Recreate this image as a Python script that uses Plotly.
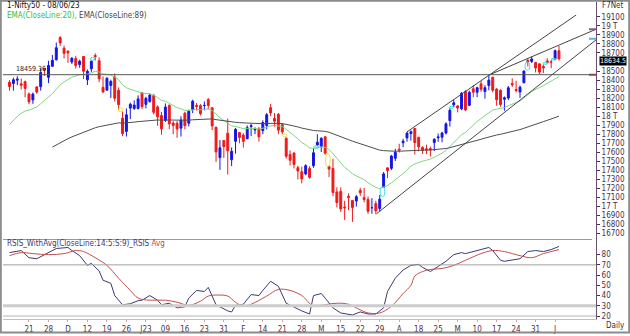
import plotly.graph_objects as go

# ---------------- data ----------------
dates = ["14-11","15-11","16-11","17-11","18-11","21-11","22-11","23-11","24-11","25-11",
         "28-11","29-11","30-11","01-12","02-12","05-12","06-12","07-12","08-12","09-12",
         "12-12","13-12","14-12","15-12","16-12","19-12","20-12","21-12","22-12","23-12",
         "26-12","27-12","28-12","29-12","30-12","02-01","03-01","04-01","05-01","06-01",
         "09-01","10-01","11-01","12-01","13-01","16-01","17-01","18-01","19-01","20-01",
         "23-01","24-01","25-01","27-01","30-01","31-01","01-02","02-02","03-02","06-02",
         "07-02","08-02","09-02","10-02","13-02","14-02","15-02","16-02","17-02","20-02",
         "21-02","22-02","23-02","24-02","27-02","28-02","01-03","02-03","03-03","06-03",
         "08-03","09-03","10-03","13-03","14-03","15-03","16-03","17-03","20-03","21-03",
         "22-03","23-03","24-03","27-03","28-03","29-03","31-03","03-04","05-04","06-04",
         "10-04","11-04","12-04","13-04","17-04","18-04","19-04","20-04","21-04","24-04",
         "25-04","26-04","27-04","28-04","02-05","03-05","04-05","05-05","08-05","09-05",
         "10-05","11-05","12-05","15-05","16-05","17-05","18-05","19-05","22-05","23-05",
         "24-05","25-05","26-05","29-05","30-05","31-05","01-06","02-06","05-06","06-06",
         "07-06","08-06"]

opens = [18377,18362,18398,18358,18382,18246,18180,18325,18326,18528,
         18430,18552,18625,18871,18753,18720,18600,18638,18571,18662,
         18402,18525,18672,18614,18319,18288,18340,18435,18288,17977,
         17831,18089,18085,18085,18259,18131,18163,18231,18102,18008,
         17953,18121,17924,17921,17867,18033,17922,18074,18120,18116,
         18118,18183,18094,17877,17541,17731,17811,17517,17721,17818,
         17790,17750,17885,17847,17859,17840,17897,18094,17974,18020,
         17905,17755,17574,17591,17429,17383,17360,17421,17451,17680,
         17665,17772,17443,17421,17160,17166,16994,17111,17066,17060,
         17177,17097,17077,16985,17031,16977,17210,17427,17422,17533,
         17634,17705,17759,17807,17863,17767,17653,17638,17640,17707,
         17761,17767,17813,17950,18125,18114,18081,18273,18120,18303,
         18265,18358,18273,18339,18432,18301,18287,18187,18201,18362,
         18295,18268,18369,18619,18606,18594,18580,18551,18612,18600,
         18631,18725]
highs = [18399,18427,18443,18417,18394,18262,18261,18325,18530,18535,
         18614,18678,18816,18887,18782,18729,18654,18669,18625,18665,
         18517,18617,18696,18652,18440,18432,18404,18473,18318,18050,
         18085,18149,18174,18230,18265,18215,18251,18243,18120,18047,
         18141,18128,17944,17946,17999,18049,18072,18183,18145,18133,
         18163,18201,18100,17884,17735,17736,17972,17653,17870,17823,
         17811,17898,17916,17876,17880,17954,18034,18134,18034,18035,
         17924,17766,17620,17599,17451,17440,17467,17445,17644,17800,
         17766,17772,17451,17529,17211,17211,17062,17145,17066,17127,
         17207,17205,17110,17091,17062,17126,17382,17428,17570,17638,
         17694,17749,17825,17842,17864,17767,17666,17684,17663,17755,
         17807,17827,17931,18089,18180,18116,18267,18288,18281,18343,
         18326,18389,18342,18458,18432,18309,18297,18218,18335,18419,
         18392,18338,18508,18641,18662,18603,18580,18573,18641,18622,
         18738,18778]
lows = [18282,18282,18344,18296,18209,18133,18137,18247,18283,18445,
        18366,18552,18616,18778,18639,18590,18577,18528,18536,18410,
        18345,18490,18616,18375,18255,18288,18202,18162,18068,17779,
        17774,17967,18069,18074,18080,18086,18149,18020,17892,17795,
        17936,17856,17800,17761,17774,17854,17886,18033,18063,18007,
        18064,18078,17846,17493,17405,17537,17353,17446,17584,17699,
        17652,17744,17779,17801,17719,17800,17853,18000,17884,17800,
        17800,17529,17455,17421,17299,17255,17345,17306,17427,17671,
        17602,17573,17325,17114,16988,16938,16850,16958,16828,16999,
        17116,17045,16917,16918,16913,16941,17205,17313,17402,17503,
        17597,17655,17717,17729,17574,17610,17580,17579,17553,17613,
        17716,17711,17797,17885,18102,18042,18066,18055,18111,18209,
        18211,18270,18194,18287,18264,18116,18104,18060,18178,18324,
        18262,18202,18366,18550,18588,18484,18464,18478,18582,18531,
        18620,18615]
closes = [18329,18403,18410,18343,18308,18159,18244,18267,18484,18512,
          18562,18618,18758,18812,18696,18701,18642,18560,18609,18497,
          18497,18608,18660,18414,18269,18420,18385,18199,18127,17807,
          18015,18132,18123,18191,18105,18197,18233,18043,17992,17859,
          18101,17914,17896,17858,17957,17895,18053,18165,18107,18027,
          18119,18118,17892,17604,17649,17662,17616,17610,17854,17764,
          17721,17872,17893,17856,17771,17929,18016,18036,17944,17845,
          17826,17555,17511,17465,17392,17304,17451,17322,17594,17711,
          17754,17590,17413,17154,17043,16972,16985,17100,16988,17107,
          17151,17077,16945,16986,16951,17080,17360,17398,17557,17599,
          17624,17722,17812,17828,17707,17660,17618,17624,17624,17743,
          17769,17813,17915,18065,18148,18090,18255,18069,18264,18266,
          18315,18297,18315,18399,18287,18182,18129,18203,18314,18348,
          18285,18321,18499,18599,18634,18534,18488,18534,18594,18599,
          18726,18635]

# EMA seeds (value of each EMA at its first drawn candle)
ema20_seed, ema20_start = 17907, 0
ema89_seed, ema89_start = 17657, 11

# RSIS line and its average, read at sample candles
rsi_idx = [0,3,5,7,9,12,15,16,18,20,21,23,24,26,27,29,31,33,34,36,38,39,41,43,45,46,48,50,51,53,
           56,57,58,60,62,64,65,67,69,71,75,77,78,80,81,83,85,88,90,92,94,96,97,99,101,103,105,106,
           108,110,112,114,116,117,120,123,124,126,127,129,131,133,135,137,139,141]
rsi_val = [82,84,77,76,80,86,87,84,79,69.5,71.5,64,55,52,40,31,32,35,35.5,40,35.5,31,32.5,28,29,37.5,45,44,48,31,
           25,24,30.5,31.5,41,40,45,54,49,32.5,25,22,40,42,37.5,28,23,21,24,22,22,28,44,57,65,69.5,70.5,67.5,
           63.5,68.5,73.5,80,82,81,84,87,84,74.5,73.5,75,76,83,84,83,85,88]
avg_idx = [0,3,6,10,14,17,19,22,25,28,31,33,36,40,43,46,49,51,54,56,58,60,62,66,69,72,75,78,80,84,87,
           90,92,95,98,101,103,104,106,108,111,114,117,121,124,127,131,134,137,141]
avg_val = [79,82,81,80,81,84,83,77,69.5,57,45,37.5,35.5,35.5,33.5,30.5,34.5,39.5,40.5,39.5,33.5,29.5,31.5,
           39.5,46,45,40,29.5,30.5,32.5,31.5,26,23,23,29.5,42,50,59,63.5,65.5,66.5,69.5,74.5,81,84,83,79,77,81,85]

# trend lines (candle index, price) and the horizontal level
upper_line = ([102.0, 145.4], [17826, 19121])
mid_line = ([123.6, 151.0], [18466, 18972])
lower_line = ([94.2, 151.0], [16919, 18862])
level = 18459.36
last_close = 18634.55
last_close_label = "18634.5"

# gap markers: (centre index, low, high, colour)
gaps = [(21.3, 18620, 18650, "#40d8e0"), (28.5, 18050, 18092, "#f0e040"), (70.6, 17775, 17800, "#f0e040"),
        (78.7, 17644, 17671, "#40d8e0"), (81.7, 17440, 17585, "#f0e040"), (95.7, 17110, 17215, "#40d8e0"),
        (113.4, 18085, 18108, "#40d8e0"), (132.9, 18508, 18600, "#40d8e0"), (137.5, 18575, 18598, "#40d8e0"),
        (139.6, 18622, 18642, "#40d8e0")]

tick_idx = [5,10,15,20,25,30,35,40,45,50,55,60,65,70,75,80,85,90,95,100,105,110,115,120,125,130,135,140]
tick_text = ["21","28","D","12","19","26","J23","09","16","23","31","F","14","21","28","M","15","22","29",
             "A","18","25","M","10","17","24","31","J"]
price_ticks = [19100,19000,18900,18800,18700,18500,18400,18300,18200,18100,18000,17900,17800,17700,
               17600,17500,17400,17300,17200,17100,17000,16900,16800,16700]
price_text = ["19100","19 T","18900","18800","18700","18500","18400","18300","18200","18100","18 T",
              "17900","17800","17700","17600","17500","17400","17300","17200","17100","17 T","16900",
              "16800","16700"]
rsi_ticks = [20,30,40,50,60,70,80]

# ---------------- derived indicator lines ----------------
idx = list(range(len(closes)))
ema20 = [ema20_seed]
for c in closes[ema20_start + 1:]:
    ema20.append(ema20[-1] + (c - ema20[-1]) * 2 / 21)
ema89 = [ema89_seed]
for c in closes[ema89_start + 1:]:
    ema89.append(ema89[-1] + (c - ema89[-1]) * 2 / 90)

# ---------------- layout helpers (pixel -> paper) ----------------
W, H = 630, 336
L, R, T, B = 3, 34, 2, 15
PW, PH = W - L - R, H - T - B
def px(x):
    return (x - L) / PW
def py(y):
    return (H - B - y) / PH
split = py(241)

FONT = "Tahoma, 'DejaVu Sans Condensed', 'Liberation Sans', sans-serif"
AX = "#4a2f4a"

fig = go.Figure()
fig.add_trace(go.Candlestick(
    x=idx, open=opens, high=highs, low=lows, close=closes,
    increasing=dict(line=dict(color="#1414e8", width=1), fillcolor="#1414e8"),
    decreasing=dict(line=dict(color="#ee1a1a", width=1), fillcolor="#ee1a1a"),
    whiskerwidth=0, showlegend=False, hoverinfo="skip", xaxis="x", yaxis="y"))
fig.add_trace(go.Scatter(x=idx[ema20_start:], y=ema20, mode="lines",
                         line=dict(color="#7fd67f", width=1), showlegend=False, yaxis="y"))
fig.add_trace(go.Scatter(x=idx[ema89_start:], y=ema89, mode="lines",
                         line=dict(color="#4d4d4d", width=1), showlegend=False, yaxis="y"))
for ln in (upper_line, mid_line, lower_line):
    fig.add_trace(go.Scatter(x=ln[0], y=ln[1], mode="lines",
                             line=dict(color="#454545", width=1), showlegend=False, yaxis="y"))
fig.add_trace(go.Scatter(x=rsi_idx, y=rsi_val, mode="lines",
                         line=dict(color="#3a3a78", width=1), showlegend=False, yaxis="y2"))
fig.add_trace(go.Scatter(x=avg_idx, y=avg_val, mode="lines", line_shape="spline",
                         line=dict(color="#c0504d", width=1), showlegend=False, yaxis="y2"))

shapes = []
# horizontal level
shapes.append(dict(type="line", xref="paper", yref="y", x0=0, x1=1, y0=level, y1=level,
                   line=dict(color="#555555", width=1)))
# gap ovals
for c, lo, hi, col in gaps:
    shapes.append(dict(type="circle", xref="x", yref="y", x0=c - 0.6, x1=c + 0.6, y0=lo, y1=hi,
                       line=dict(color=col, width=1)))
# RSI levels
shapes.append(dict(type="line", xref="paper", yref="y2", x0=0, x1=1, y0=30, y1=30,
                   line=dict(color="#cccccc", width=3)))
shapes.append(dict(type="line", xref="paper", yref="y2", x0=0, x1=1, y0=70, y1=70,
                   line=dict(color="#a0a0a0", width=1)))
shapes.append(dict(type="line", xref="paper", yref="y2", x0=0, x1=1, y0=20, y1=20,
                   line=dict(color="#b4b4b4", width=1)))
# panel separator
shapes.append(dict(type="line", xref="paper", yref="paper", x0=0, x1=px(592), y0=split, y1=split,
                   line=dict(color="#9a9a9a", width=1)))
# small level markers at the price axis
for yv, col in ((mid_line[1][1] - 10, "#8a5a8a"), (lower_line[1][1] - 5, "#5ab0e0"), (level, "#8a4a4a")):
    shapes.append(dict(type="line", xref="paper", yref="y", x0=px(589), x1=1, y0=yv, y1=yv,
                       line=dict(color=col, width=2)))
# outer frame
shapes.append(dict(type="rect", xref="paper", yref="paper", x0=px(0.8), x1=px(629.2),
                   y0=py(334.5), y1=py(0.8), line=dict(color="#8c8c8c", width=2)))

ann = []
ann.append(dict(text="1-Nifty50 - 08/06/23", xref="paper", yref="paper", x=px(5), y=py(6),
                xanchor="left", yanchor="middle", showarrow=False, font=dict(size=8, color="#111111")))
ann.append(dict(text='<span style="color:#2fbf2f">EMA(CloseLine:20),</span> '
                     '<span style="color:#444444">EMA(CloseLine:89)</span>',
                xref="paper", yref="paper", x=px(5), y=py(16), xanchor="left", yanchor="middle",
                showarrow=False, font=dict(size=8)))
ann.append(dict(text="F7Net", xref="paper", yref="paper", x=px(626), y=py(6), xanchor="right",
                yanchor="middle", showarrow=False, font=dict(size=8, color="#333333")))
ann.append(dict(text=f"{level:.2f}", xref="paper", yref="y", x=px(14), y=level, xanchor="left",
                yanchor="bottom", showarrow=False, font=dict(size=7, color="#222222")))
ann.append(dict(text='<span style="color:#3a3a78">RSIS_WithAvg(CloseLine:14:5:S:9)_RSIS</span> '
                     '<span style="color:#d04040">Avg</span>',
                xref="paper", yref="paper", x=px(5), y=py(245), xanchor="left", yanchor="middle",
                showarrow=False, font=dict(size=8)))
ann.append(dict(text="Daily", xref="paper", yref="paper", x=px(604), y=py(328), xanchor="left",
                yanchor="middle", showarrow=False, font=dict(size=8, color="#333333")))
ann.append(dict(text=last_close_label, xref="paper", yref="y", x=px(599), y=last_close,
                xanchor="left", yanchor="middle", yshift=-2, showarrow=False, bgcolor="#000000",
                borderpad=0, font=dict(size=7, color="#ffffff")))

fig.update_layout(
    width=W, height=H, margin=dict(l=L, r=R, t=T, b=B),
    paper_bgcolor="white", plot_bgcolor="white", showlegend=False,
    font=dict(family=FONT, size=8, color=AX),
    shapes=shapes, annotations=ann,
    xaxis=dict(domain=[0, 1], range=[-1.67, 150.5], anchor="y2", tickmode="array",
               tickvals=tick_idx, ticktext=tick_text, ticks="outside", ticklen=2,
               tickcolor="#d8a0a0", showline=True, linecolor="#e6b0b0", linewidth=1,
               showgrid=False, zeroline=False, rangeslider=dict(visible=False),
               tickfont=dict(size=8, color=AX, family=FONT)),
    yaxis=dict(domain=[split, 1], range=[16633, 19265], side="right", anchor="x",
               tickmode="array", tickvals=price_ticks, ticktext=price_text, ticks="outside",
               ticklen=3, tickcolor=AX, showline=True, linecolor="#6a506a", showgrid=False,
               zeroline=False, tickfont=dict(size=8, color=AX, family=FONT)),
    yaxis2=dict(domain=[0, split], range=[17.1, 94.8], side="right", anchor="x",
                tickmode="array", tickvals=rsi_ticks, ticks="outside", ticklen=3, tickcolor=AX,
                showline=True, linecolor="#6a506a", showgrid=False, zeroline=False,
                tickfont=dict(size=8, color=AX, family=FONT)),
)

fig.write_html("out.html")
